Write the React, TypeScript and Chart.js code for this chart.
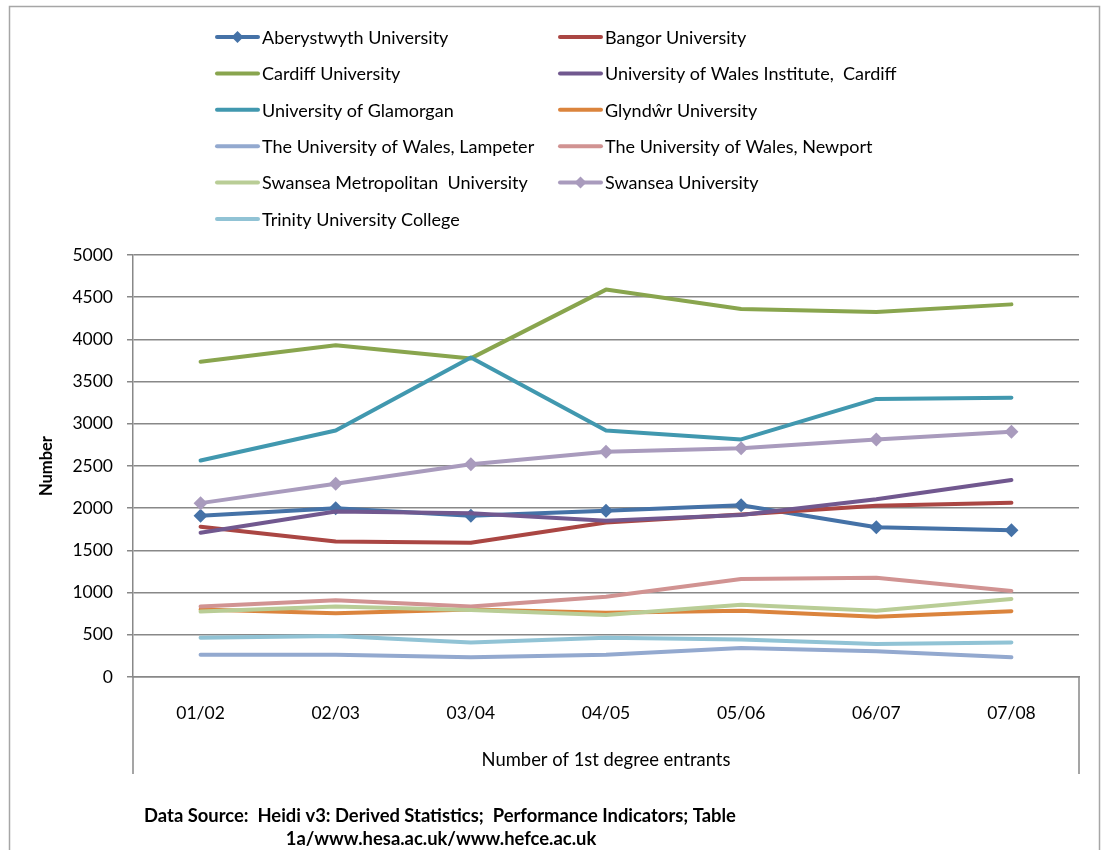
import React, { useEffect, useRef } from "react";
import { Chart, registerables } from "chart.js";

Chart.register(...registerables);

const categories = ["01/02", "02/03", "03/04", "04/05", "05/06", "06/07", "07/08"];

const aberystwyth = [1910, 2000, 1910, 1970, 2035, 1775, 1740];
const bangor = [1780, 1605, 1590, 1830, 1925, 2030, 2065];
const cardiff = [3735, 3930, 3775, 4590, 4360, 4325, 4415];
const uwic = [1710, 1960, 1940, 1850, 1920, 2105, 2335];
const glamorgan = [2565, 2920, 3785, 2920, 2815, 3295, 3310];
const glyndwr = [800, 755, 800, 760, 785, 715, 780];
const lampeter = [265, 265, 235, 265, 345, 305, 235];
const newport = [835, 910, 835, 950, 1160, 1175, 1020];
const swanseaMet = [775, 835, 795, 735, 855, 785, 925];
const swansea = [2060, 2290, 2520, 2670, 2710, 2815, 2905];
const trinity = [465, 485, 410, 465, 445, 390, 410];

const seriesNames = [
  "Aberystwyth University",
  "Bangor University",
  "Cardiff University",
  "University of Wales Institute,  Cardiff",
  "University of Glamorgan",
  "Glyndŵr University",
  "The University of Wales, Lampeter",
  "The University of Wales, Newport",
  "Swansea Metropolitan  University",
  "Swansea University",
  "Trinity University College",
];
const seriesValues = [aberystwyth, bangor, cardiff, uwic, glamorgan, glyndwr, lampeter, newport, swanseaMet, swansea, trinity];
const seriesColors = [
  "#4572A7", "#AA4643", "#89A54E", "#71588F", "#4198AF", "#DB843D",
  "#93A9CF", "#D19392", "#B9CD96", "#A99BBD", "#91C3D5",
];
const seriesMarkers = [true, false, false, false, false, false, false, false, false, true, false];

const yTicksMin = 0;
const yTicksMax = 5000;
const yTickStep = 500;

const yTitle = "Number";
const xTitle = "Number of 1st degree entrants";
const sourceLines = [
  "Data Source:  Heidi v3: Derived Statistics;  Performance Indicators; Table",
  "1a/www.hesa.ac.uk/www.hefce.ac.uk",
];

const FONT = "Lato, 'Open Sans', sans-serif";
const GRID = "#888888";

const extrasPlugin = {
  id: "extras",
  beforeDraw(chart: any) {
    const ctx = chart.ctx;
    ctx.save();
    ctx.fillStyle = "#ffffff";
    ctx.fillRect(0, 0, chart.width, chart.height);
    ctx.strokeStyle = "#A6A6A6";
    ctx.lineWidth = 1.5;
    ctx.strokeRect(9.5, 6.5, 1090, 900);
    ctx.restore();
  },
  afterDraw(chart: any) {
    const ctx = chart.ctx;
    const area = chart.chartArea;
    ctx.save();
    ctx.strokeStyle = GRID;
    ctx.lineWidth = 1.5;
    ctx.beginPath();
    ctx.moveTo(area.left, area.bottom);
    ctx.lineTo(area.left, 774);
    ctx.moveTo(area.right, area.bottom);
    ctx.lineTo(area.right, 774);
    ctx.stroke();

    // legend
    const colX = [217, 560];
    const rowY0 = 37;
    const rowH = 36.4;
    chart.data.datasets.forEach((ds: any, i: number) => {
      const col = i % 2;
      const row = Math.floor(i / 2);
      const x = colX[col];
      const y = rowY0 + row * rowH;
      ctx.strokeStyle = ds.borderColor;
      ctx.lineWidth = 4;
      ctx.lineCap = "round";
      ctx.beginPath();
      ctx.moveTo(x, y);
      ctx.lineTo(x + 41, y);
      ctx.stroke();
      if (seriesMarkers[i]) {
        ctx.fillStyle = ds.borderColor;
        ctx.beginPath();
        ctx.moveTo(x + 20.5, y - 6);
        ctx.lineTo(x + 26.5, y);
        ctx.lineTo(x + 20.5, y + 6);
        ctx.lineTo(x + 14.5, y);
        ctx.closePath();
        ctx.fill();
      }
      ctx.fillStyle = "#000000";
      ctx.font = `18px ${FONT}`;
      ctx.textAlign = "left";
      ctx.textBaseline = "middle";
      ctx.fillText(ds.label, x + 45, y + 1);
    });

    // y title
    ctx.save();
    ctx.translate(47, (area.top + area.bottom) / 2);
    ctx.rotate(-Math.PI / 2);
    ctx.font = `bold 16.5px ${FONT}`;
    ctx.textAlign = "center";
    ctx.textBaseline = "middle";
    ctx.fillStyle = "#000000";
    ctx.fillText(yTitle, 0, 0);
    ctx.restore();

    // x title
    ctx.font = `18.4px ${FONT}`;
    ctx.textAlign = "center";
    ctx.textBaseline = "middle";
    ctx.fillStyle = "#000000";
    ctx.fillText(xTitle, (area.left + area.right) / 2, 760);

    // data source
    ctx.font = `bold 18.4px ${FONT}`;
    ctx.fillText(sourceLines[0], 440, 816);
    ctx.fillText(sourceLines[1], 441, 839);
    ctx.restore();
  },
};

export default function App() {
  const canvasRef = useRef<HTMLCanvasElement | null>(null);

  useEffect(() => {
    let chart: Chart | null = null;
    let cancelled = false;
    const make = () => {
      if (cancelled || !canvasRef.current) return;
      chart = new Chart(canvasRef.current, {
        type: "line",
        data: {
          labels: categories,
          datasets: seriesNames.map((name, i) => ({
            label: name,
            data: seriesValues[i],
            borderColor: seriesColors[i],
            backgroundColor: seriesColors[i],
            borderWidth: 4,
            tension: 0,
            borderJoinStyle: "round" as const,
            borderCapStyle: "round" as const,
            pointStyle: "rectRot" as const,
            pointRadius: seriesMarkers[i] ? 7 : 0,
            pointBorderWidth: 0,
            pointHoverRadius: seriesMarkers[i] ? 7 : 0,
            order: -i,
          })),
        },
        options: {
          responsive: false,
          animation: false,
          devicePixelRatio: 1,
          layout: { padding: { left: 0, right: 22, top: 255, bottom: 0 } },
          plugins: {
            legend: { display: false },
            title: { display: false },
            tooltip: { enabled: false },
          },
          scales: {
            x: {
              offset: true,
              grid: { display: false, drawTicks: false },
              border: { display: true, color: GRID, width: 1.5 },
              ticks: {
                color: "#000000",
                font: { family: FONT, size: 17.5 },
                padding: 26,
                maxRotation: 0,
              },
              afterFit: (scale: any) => {
                scale.height = 173;
              },
            },
            y: {
              min: yTicksMin,
              max: yTicksMax,
              grid: { color: GRID, lineWidth: 1.5, drawTicks: true, tickLength: 6 },
              border: { display: true, color: GRID, width: 1.5 },
              ticks: {
                stepSize: yTickStep,
                color: "#000000",
                font: { family: FONT, size: 17.5 },
                padding: 14,
                callback: (v: any) => String(v),
              },
              afterFit: (scale: any) => {
                scale.width = 133;
              },
            },
          },
        },
        plugins: [extrasPlugin],
      });
    };
    const fontsReady = (document as any).fonts
      ? Promise.all([
          (document as any).fonts.load(`18px Lato`),
          (document as any).fonts.load(`bold 18px Lato`),
        ]).catch(() => null)
      : Promise.resolve(null);
    fontsReady.then(make);
    return () => {
      cancelled = true;
      if (chart) chart.destroy();
    };
  }, []);

  return (
    <div style={{ position: "absolute", left: 0, top: 0, width: 1101, height: 850 }}>
      <canvas ref={canvasRef} width={1101} height={850} />
    </div>
  );
}
